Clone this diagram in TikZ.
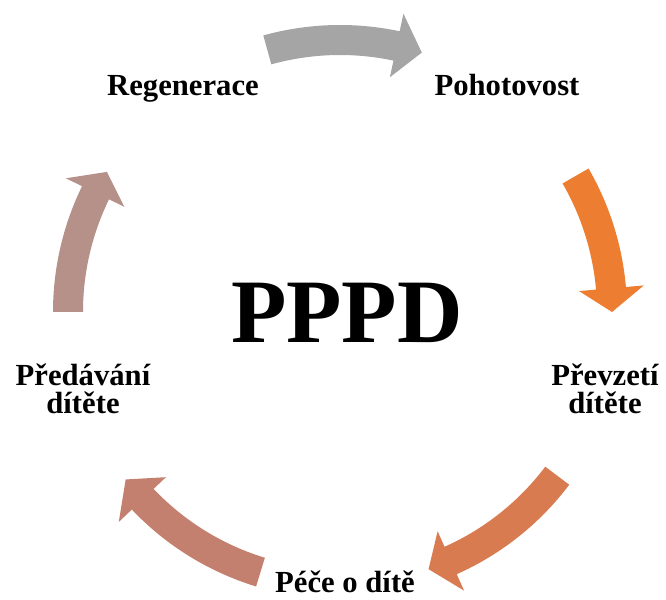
\documentclass[tikz,border=0pt]{standalone}
\usepackage{fontspec}
\setmainfont{Liberation Serif}
\usepackage{xcolor}

\definecolor{arrgray}{HTML}{A5A5A5}
\definecolor{arrorange}{HTML}{ED7D31}
\definecolor{arrrust}{HTML}{D97B50}
\definecolor{arrclay}{HTML}{C4806E}
\definecolor{arrmauve}{HTML}{B5918A}

% curved block arrow round ctr: colour, start angle, head base angle, tip angle
\newcommand{\cyclearrow}[4]{%
	\fill[#1] ([shift={(#2:287)}]ctr) arc[start angle=#2, end angle=#3, radius=287]
		-- ([shift={(#3:305)}]ctr) -- ([shift={(#4:272)}]ctr) -- ([shift={(#3:240)}]ctr)
		-- ([shift={(#3:257)}]ctr) arc[start angle=#3, end angle=#2, radius=257] -- cycle;}

\begin{document}
\begin{tikzpicture}[x=0.75pt, y=0.75pt,
		label/.style={font=\bfseries\fontsize{23}{21}\selectfont, align=center, anchor=base, inner sep=0pt}]
			\useasboundingbox (0,0) rectangle (666,599);
			\coordinate (ctr) at (340,287);
			\cyclearrow{arrgray}{105.5}{78}{72.5}
			\cyclearrow{arrorange}{30}{5}{0}
			\cyclearrow{arrrust}{-37}{-66}{-71}
			\cyclearrow{arrclay}{-107}{-136.5}{-142}
			\cyclearrow{arrmauve}{180}{154}{149}
			\node[label] (regen) at (183,503) {Regenerace};
			\node[label] (pohot) at (507,503) {Pohotovost};
			\node[label] (prevz) at (605,185) {Převzetí\\dítěte};
			\node[label] (pece) at (345,7) {Péče o dítě};
			\node[label] (preda) at (83,185) {Předávání\\dítěte};
			\node[font=\bfseries\fontsize{68}{68}\selectfont, anchor=base, inner sep=0pt] (pppd) at (347,256) {PPPD};
		\end{tikzpicture}
\end{document}
